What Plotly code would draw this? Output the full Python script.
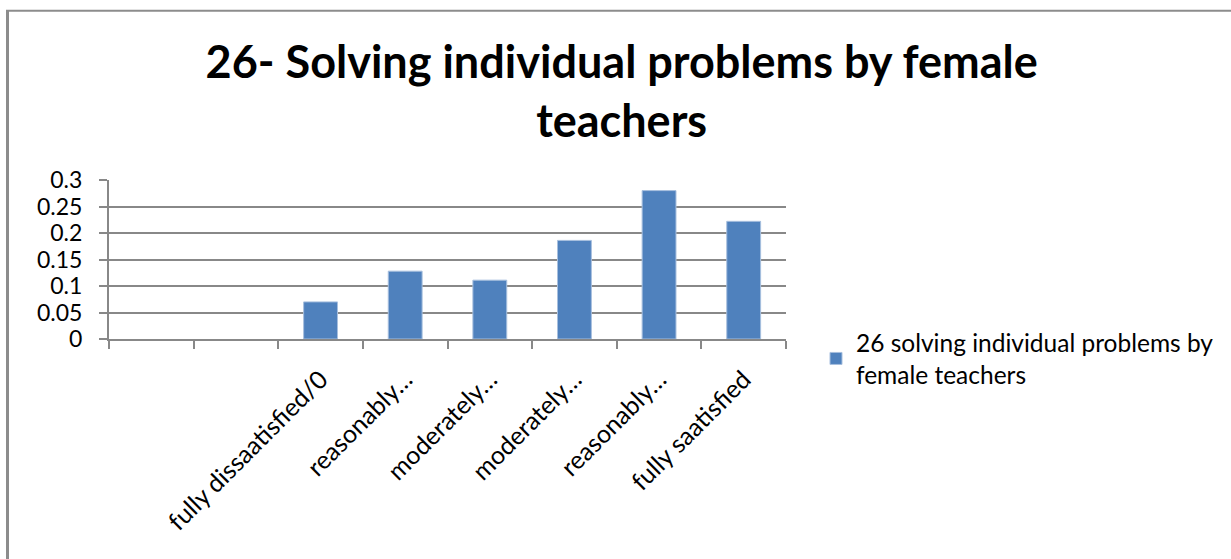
import plotly.graph_objects as go

categories = [" ", "  ", "fully dissaatisfied/0", "reasonably dissatisfied",
              "moderately dissatisfied", "moderately satisfied",
              "reasonably satisfied", "fully saatisfied"]
tick_labels = ["", "", "fully dissaatisfied/0", "reasonably…", "moderately…",
               "moderately…", "reasonably…", "fully saatisfied"]
values = [None, None, 0.07, 0.128, 0.111, 0.186, 0.28, 0.222]
series_name = "26 solving individual problems by<br>female teachers"
title_text = "26- Solving individual problems by female<br>teachers"
y_ticks = [0, 0.05, 0.1, 0.15, 0.2, 0.25, 0.3]
y_tick_text = ["0", "0.05", "0.1", "0.15", "0.2", "0.25", "0.3"]

FONT = "Lato"

fig = go.Figure()
fig.add_trace(go.Bar(
    x=categories, y=values, name=series_name,
    marker=dict(color="#4F81BD", line=dict(color="#A7BFDE", width=1)),
    showlegend=True,
))

L, R = 109, 786
T, B = 179.5, 339.3
W, H = 1231, 559

def px_x(p):
    return (p - L) / (R - L)

def px_y(p):
    return (B - p) / (B - T)

fig.update_layout(
    width=W, height=H,
    margin=dict(l=L, r=W - R, t=T, b=H - B, pad=0, autoexpand=False),
    paper_bgcolor="white", plot_bgcolor="white",
    font=dict(family=FONT, color="black"),
    bargap=0.6,
    title=dict(text="<b>" + title_text + "</b>", x=0.505, xanchor="center",
               y=1 - 78 / H, yanchor="middle", yref="container",
               font=dict(family=FONT, size=45, color="black")),
    legend=dict(x=px_x(816), y=px_y(359), xanchor="left", yanchor="middle",
                font=dict(family=FONT, size=24.5, color="black"),
                bgcolor="rgba(0,0,0,0)"),
    xaxis=dict(type="category", categoryorder="array", categoryarray=categories,
               tickmode="array", tickvals=categories, ticktext=tick_labels,
               tickson="boundaries", ticks="outside", ticklen=8, tickcolor="#888888",
               tickwidth=2, tickangle=-45, ticklabelstandoff=14,
               showline=True, linecolor="#888888", linewidth=2,
               showgrid=False, tickfont=dict(family=FONT, size=25, color="black"),
               range=[-0.5, 7.5]),
    yaxis=dict(range=[0, 0.3], tickvals=y_ticks, ticktext=y_tick_text,
               ticks="outside", ticklen=8, tickcolor="#888888", tickwidth=2,
               ticklabelstandoff=12,
               showline=True, linecolor="#888888", linewidth=2,
               showgrid=True, gridcolor="#888888", gridwidth=2,
               zeroline=False, tickfont=dict(family=FONT, size=23, color="black")),
)

fig.add_shape(type="line", xref="paper", yref="paper",
              x0=px_x(7.5), x1=px_x(7.5), y0=px_y(9.5), y1=px_y(H + 5),
              line=dict(color="#8C8C8C", width=3))
fig.add_shape(type="line", xref="paper", yref="paper",
              x0=px_x(6), x1=px_x(W + 5), y0=px_y(9.5), y1=px_y(9.5),
              line=dict(color="#8C8C8C", width=2))

fig.write_html("out.html", config={"displayModeBar": False},
               post_script="document.body.style.margin='0';document.body.style.overflow='hidden';")
